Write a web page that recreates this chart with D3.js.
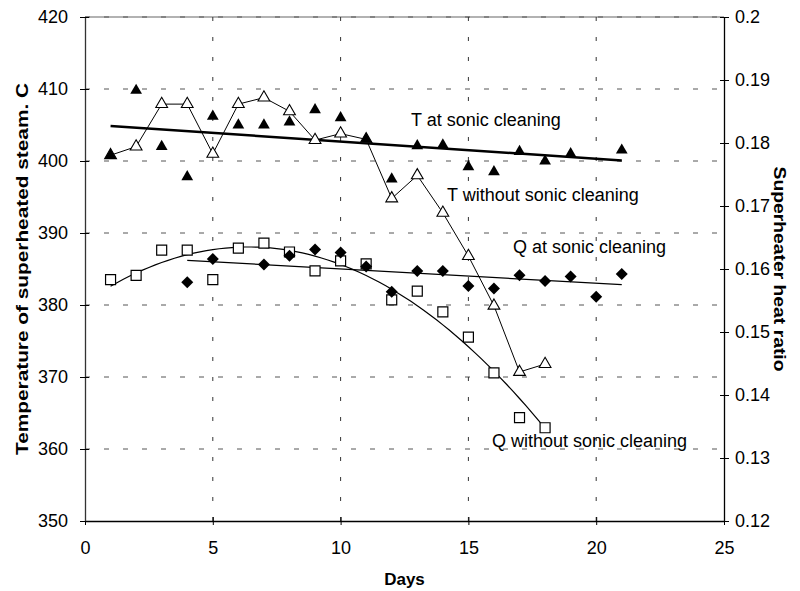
<!DOCTYPE html>
<html>
<head>
<meta charset="utf-8">
<script src="https://cdn.jsdelivr.net/npm/d3@7"></script>
<style>
  body { margin: 0; background: #fff; }
  svg { font-family: Arial, "Liberation Sans", sans-serif; }
</style>
</head>
<body>
<script>
// days and readings
var daysTat = [1, 2, 3, 4, 5, 6, 7, 8, 9, 10, 11, 12, 13, 14, 15, 16, 17, 18, 19, 21];
var tAtSonic = [400.8, 409.8, 402, 397.8, 406.2, 405, 405, 405.4, 407.1, 406, 403, 397.5, 402.1, 402.2, 399.2, 398.5, 401.3, 400, 401, 401.5];

var daysTwo = [1, 2, 3, 4, 5, 6, 7, 8, 9, 10, 11, 12, 13, 14, 15, 16, 17, 18];
var tWithout = [400.8, 402, 407.9, 407.9, 401, 407.9, 408.8, 406.9, 402.9, 403.8, 403, 394.8, 398, 392.8, 386.8, 379.9, 370.7, 371.8];

var daysQat = [4, 5, 7, 8, 9, 10, 11, 12, 13, 14, 15, 16, 17, 18, 19, 20, 21];
var qAtSonic = [0.1579, 0.1616, 0.1607, 0.1621, 0.1631, 0.1626, 0.1604, 0.1564, 0.1597, 0.1597, 0.1573, 0.1569, 0.1590, 0.1581, 0.1588, 0.1556, 0.1592];

var daysQwo = [1, 2, 3, 4, 5, 6, 7, 8, 9, 10, 11, 12, 13, 14, 15, 16, 17, 18];
var qWithout = [0.1583, 0.1590, 0.1630, 0.1630, 0.1583, 0.1633, 0.1641, 0.1627, 0.1597, 0.1613, 0.1608, 0.1551, 0.1565, 0.1532, 0.1492, 0.1435, 0.1364, 0.1348];

var xTicks = [0, 5, 10, 15, 20, 25];
var yLeftTicks = [350, 360, 370, 380, 390, 400, 410, 420];
var yRightTicks = [0.12, 0.13, 0.14, 0.15, 0.16, 0.17, 0.18, 0.19, 0.2];

var labels = [
  { text: 'T at sonic cleaning', x: 411, y: 126 },
  { text: 'T without sonic cleaning', x: 447, y: 201 },
  { text: 'Q at sonic cleaning', x: 513, y: 253 },
  { text: 'Q without sonic cleaning', x: 492, y: 447 }
];

var W = 800, H = 591;
var m = { left: 85, right: 724, top: 17, bottom: 521 };

var svg = d3.select('body').append('svg')
            .attr('width', W)
            .attr('height', H);

var x = d3.scaleLinear().domain([0, 25]).range([m.left, m.right]);
var yL = d3.scaleLinear().domain([350, 420]).range([m.bottom, m.top]);
var yR = d3.scaleLinear().domain([0.12, 0.2]).range([m.bottom, m.top]);

// least squares polynomial fit
function polyfit(xs, ys, order) {
  var n = order + 1;
  var A = [], b = [];
  for (var i = 0; i < n; i++) {
    A.push([]);
    for (var j = 0; j < n; j++) {
      A[i].push(d3.sum(xs, function(v) { return Math.pow(v, i + j); }));
    }
    b.push(d3.sum(xs, function(v, k) { return Math.pow(v, i) * ys[k]; }));
  }
  for (var c = 0; c < n; c++) {
    for (var r = c + 1; r < n; r++) {
      var f = A[r][c] / A[c][c];
      for (var k = c; k < n; k++) A[r][k] -= f * A[c][k];
      b[r] -= f * b[c];
    }
  }
  var coef = new Array(n);
  for (var r2 = n - 1; r2 >= 0; r2--) {
    var s = b[r2];
    for (var k2 = r2 + 1; k2 < n; k2++) s -= A[r2][k2] * coef[k2];
    coef[r2] = s / A[r2][r2];
  }
  return function(v) {
    return d3.sum(coef, function(cf, p) { return cf * Math.pow(v, p); });
  };
}

// gridlines
svg.append('line')
   .attr('x1', m.left).attr('x2', m.right)
   .attr('y1', m.top).attr('y2', m.top)
   .style('stroke', '#999').style('stroke-width', 1.5);

svg.selectAll('.hgrid')
   .data(yLeftTicks.slice(1))
   .enter().append('line')
   .attr('x1', m.left).attr('x2', m.right)
   .attr('y1', function(d) { return yL(d); })
   .attr('y2', function(d) { return yL(d); })
   .style('stroke', '#555')
   .style('stroke-width', 1)
   .style('stroke-dasharray', '5,14');

svg.selectAll('.vgrid')
   .data(xTicks.slice(1, -1))
   .enter().append('line')
   .attr('x1', function(d) { return x(d); })
   .attr('x2', function(d) { return x(d); })
   .attr('y1', m.top).attr('y2', m.bottom)
   .style('stroke', '#333')
   .style('stroke-width', 1)
   .style('stroke-dasharray', '4,16');

// axes
var xAxis = d3.axisBottom(x).tickValues(xTicks).tickSizeInner(4).tickSizeOuter(0).tickPadding(16);
var yAxisL = d3.axisLeft(yL).tickValues(yLeftTicks).tickSizeInner(5).tickSizeOuter(0).tickPadding(12);
var yAxisR = d3.axisRight(yR).tickValues(yRightTicks).tickFormat(d3.format('')).tickSizeInner(5).tickSizeOuter(0).tickPadding(6);

var gx = svg.append('g').attr('transform', 'translate(0,' + m.bottom + ')').call(xAxis);
var gl = svg.append('g').attr('transform', 'translate(' + m.left + ',0)').call(yAxisL);
var gr = svg.append('g').attr('transform', 'translate(' + m.right + ',0)').call(yAxisR);

[gx, gl, gr].forEach(function(g) {
  g.select('.domain').style('stroke', '#000').style('stroke-width', 1.3);
  g.selectAll('.tick line').style('stroke', '#000');
  g.selectAll('.tick text')
   .style('font-size', '18px')
   .style('font-family', 'Arial, "Liberation Sans", sans-serif')
   .style('fill', '#000');
});
gl.select('.domain').style('stroke', '#333');
// cross ticks
gx.selectAll('.tick line').attr('y1', -4);
gl.selectAll('.tick line').attr('x1', 4);
gr.selectAll('.tick line').attr('x1', -4);

// axis titles (stretched along their length like the original)
svg.append('text')
   .attr('transform', 'translate(28,' + ((m.top + m.bottom) / 2) + ') rotate(-90)')
   .attr('text-anchor', 'middle')
   .attr('textLength', 372)
   .attr('lengthAdjust', 'spacingAndGlyphs')
   .style('font-size', '16px')
   .style('font-weight', 'bold')
   .text('Temperature of superheated steam. C');

svg.append('text')
   .attr('transform', 'translate(774,' + ((m.top + m.bottom) / 2) + ') rotate(90)')
   .attr('text-anchor', 'middle')
   .attr('textLength', 205)
   .attr('lengthAdjust', 'spacingAndGlyphs')
   .style('font-size', '16px')
   .style('font-weight', 'bold')
   .text('Superheater heat ratio');

svg.append('text')
   .attr('x', (m.left + m.right) / 2)
   .attr('y', 585)
   .attr('text-anchor', 'middle')
   .style('font-size', '17px')
   .style('font-weight', 'bold')
   .text('Days');

// trend lines
var tFit = polyfit(daysTat, tAtSonic, 1);
svg.append('line')
   .attr('x1', x(1)).attr('y1', yL(tFit(1)))
   .attr('x2', x(21)).attr('y2', yL(tFit(21)))
   .style('stroke', '#000').style('stroke-width', 2.5);

var qFit = polyfit(daysQat, qAtSonic, 1);
svg.append('line')
   .attr('x1', x(4)).attr('y1', yR(qFit(4)))
   .attr('x2', x(21)).attr('y2', yR(qFit(21)))
   .style('stroke', '#000').style('stroke-width', 1.2);

var qwFit = polyfit(daysQwo, qWithout, 2);
var curveDays = d3.range(1, 18.01, 0.25);
svg.append('path')
   .datum(curveDays)
   .attr('d', d3.line()
      .x(function(d) { return x(d); })
      .y(function(d) { return yR(qwFit(d)); }))
   .style('fill', 'none').style('stroke', '#000').style('stroke-width', 1.2);

// T without: connected line
svg.append('path')
   .datum(daysTwo)
   .attr('d', d3.line()
      .x(function(d) { return x(d); })
      .y(function(d, i) { return yL(tWithout[i]); }))
   .style('fill', 'none').style('stroke', '#000').style('stroke-width', 1);

// markers
var tri = d3.symbol().type(d3.symbolTriangle).size(60);
var sq = d3.symbol().type(d3.symbolSquare).size(100);
var dia = d3.symbol().type(d3.symbolSquare).size(72);

svg.selectAll('.qwo')
   .data(daysQwo)
   .enter().append('path')
   .attr('d', sq)
   .attr('transform', function(d, i) { return 'translate(' + x(d) + ',' + yR(qWithout[i]) + ')'; })
   .style('fill', '#fff').style('stroke', '#000').style('stroke-width', 1.2);

svg.selectAll('.qat')
   .data(daysQat)
   .enter().append('path')
   .attr('d', dia)
   .attr('transform', function(d, i) { return 'translate(' + x(d) + ',' + yR(qAtSonic[i]) + ') rotate(45)'; })
   .style('fill', '#000');

svg.selectAll('.two')
   .data(daysTwo)
   .enter().append('path')
   .attr('d', tri)
   .attr('transform', function(d, i) { return 'translate(' + x(d) + ',' + yL(tWithout[i]) + ')'; })
   .style('fill', '#fff').style('stroke', '#000').style('stroke-width', 1.1);

svg.selectAll('.tat')
   .data(daysTat)
   .enter().append('path')
   .attr('d', tri)
   .attr('transform', function(d, i) { return 'translate(' + x(d) + ',' + yL(tAtSonic[i]) + ')'; })
   .style('fill', '#000');

// series labels
svg.selectAll('.lbl')
   .data(labels)
   .enter().append('text')
   .attr('x', function(d) { return d.x; })
   .attr('y', function(d) { return d.y; })
   .style('font-size', '18px')
   .text(function(d) { return d.text; });
</script>
</body>
</html>
